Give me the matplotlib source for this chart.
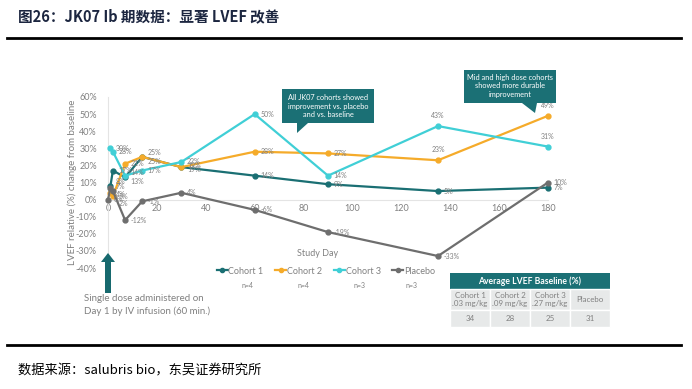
import matplotlib
matplotlib.use("Agg")
import matplotlib.pyplot as plt
from matplotlib.lines import Line2D
from matplotlib.patches import Polygon, Rectangle

plt.rcParams['font.family'] = ['Lato', 'Noto Sans CJK SC', 'DejaVu Sans']

# ---- data ----
days = [1, 2, 7, 14, 30, 60, 90, 135, 180]
placebo_days = [0, 1, 2, 7, 14, 30, 60, 90, 135, 180]

cohort1 = [8, 17, 13, 25, 19, 14, 9, 5, 7]
cohort2 = [4, 2, 21, 25, 19, 28, 27, 23, 49]
cohort3 = [30, 28, 14, 17, 22, 50, 14, 43, 31]
placebo = [0, 7, 5, -12, -1, 4, -6, -19, -33, 10]

series_names = ['Cohort 1', 'Cohort 2', 'Cohort 3', 'Placebo']
series_n = ['n=4', 'n=4', 'n=3', 'n=3']
colors = ['#1a6f73', '#f5ab2a', '#40cfd6', '#6e6e6e']

table_title = 'Average LVEF Baseline (%)'
table_heads = ['Cohort 1\n.03 mg/kg', 'Cohort 2\n.09 mg/kg', 'Cohort 3\n.27 mg/kg', 'Placebo']
table_vals = [34, 28, 25, 31]

y_ticks = [-40, -30, -20, -10, 0, 10, 20, 30, 40, 50, 60]
x_ticks = [0, 20, 40, 60, 80, 100, 120, 140, 160, 180]

W, H = 692, 389
TEAL = '#1b7075'
GREY = '#808080'


def fx(px):
    return px / W


def fy(py):
    return 1 - py / H


fig = plt.figure(figsize=(W / 100, H / 100), dpi=100)

# title + rules
fig.text(fx(18), fy(16), '图26：JK07 Ib 期数据：显著 LVEF 改善', fontsize=10.5,
         fontweight='bold', color='#1c2640', va='center', ha='left',
         family=['Noto Sans CJK SC', 'DejaVu Sans'])
fig.add_artist(Line2D([fx(7), fx(681)], [fy(38), fy(38)], color='black', lw=2))
fig.add_artist(Line2D([fx(7), fx(681)], [fy(345), fy(345)], color='black', lw=2))
fig.text(fx(18), fy(371), '数据来源：salubris bio，东吴证券研究所', fontsize=9.5,
         color='black', va='center', ha='left',
         family=['Noto Sans CJK SC', 'DejaVu Sans'])

# main axes
ax = fig.add_axes([fx(108), fy(268), fx(548) - fx(108), fy(97) - fy(268)])
ax.set_xlim(0, 180)
ax.set_ylim(-40, 60)

all_series = [(days, cohort1), (days, cohort2), (days, cohort3), (placebo_days, placebo)]
# label placement tweaks (series index, point index) -> offset in points
label_off = {
    (1, 7): (0, 5), (1, 8): (0, 5), (2, 7): (0, 5), (2, 8): (0, 5), (0, 3): (4, -3),
    (1, 3): (4, 3), (0, 0): (4, 3), (1, 0): (4, -1), (1, 1): (4, -5), (3, 1): (4, 1),
    (3, 2): (4, -4), (0, 2): (4, -3), (2, 2): (4, 2), (0, 4): (4, -2), (1, 4): (4, 1),
}
for k, ((xs, ys), c) in enumerate(zip(all_series, colors)):
    ax.plot(xs, ys, color=c, lw=1.6, marker='o', ms=3.5, clip_on=False, zorder=3)
    for i, (x, y) in enumerate(zip(xs, ys)):
        off = label_off.get((k, i), (4, 0))
        ha = 'center' if off[0] == 0 else 'left'
        va = 'bottom' if off[0] == 0 else 'center'
        ax.annotate(f'{y}%', (x, y), xytext=off, textcoords='offset points',
                    fontsize=5, color=GREY, va=va, ha=ha, zorder=4)

for s in ['top', 'right']:
    ax.spines[s].set_visible(False)
ax.spines['left'].set_position(('data', 0))
ax.spines['bottom'].set_position(('data', 0))
for s in ['left', 'bottom']:
    ax.spines[s].set_color('#e4e4e4')
    ax.spines[s].set_linewidth(0.8)
ax.set_yticks(y_ticks)
ax.set_yticklabels([f'{t}%' for t in y_ticks])
ax.set_xticks(x_ticks)
ax.tick_params(length=0, labelsize=6.5, colors=GREY)
ax.tick_params(axis='y', pad=8)
ax.tick_params(axis='x', pad=3)
ax.patch.set_alpha(0)

fig.text(fx(72), fy(182), 'LVEF relative (%) change from baseline', rotation=90,
         fontsize=7, color=GREY, ha='center', va='center')
fig.text(fx(318), fy(253), 'Study Day', fontsize=6.5, color=GREY, ha='center', va='center')

# legend
handles = [Line2D([], [], color=c, lw=1.6, marker='o', ms=3) for c in colors]
fig.legend(handles, series_names, loc='center', bbox_to_anchor=(fx(326), fy(271)),
           ncol=4, frameon=False, fontsize=6.5, labelcolor=GREY, handlelength=1.2,
           handletextpad=0.1, columnspacing=1.3, borderpad=0)
for xp, n in zip([248, 304, 359, 412], series_n):
    fig.text(fx(xp), fy(285), n, fontsize=5, color=GREY, ha='center', va='center')


def poly(points, color):
    fig.add_artist(Polygon([(fx(a), fy(b)) for a, b in points], closed=True,
                           facecolor=color, edgecolor='none', transform=fig.transFigure))


# callouts
poly([(282, 89), (374, 89), (374, 123), (308, 123), (297, 133), (297, 123), (282, 123)], TEAL)
fig.text(fx(328), fy(106), 'All JK07 cohorts showed\nimprovement vs. placebo\nand vs. baseline',
         fontsize=5.3, color='white', ha='center', va='center', linespacing=1.3)
poly([(464, 70), (556, 70), (556, 103), (537, 103), (535, 113), (522, 103), (464, 103)], TEAL)
fig.text(fx(510), fy(86), 'Mid and high dose cohorts\nshowed more durable\nimprovement',
         fontsize=5.3, color='white', ha='center', va='center', linespacing=1.3)

# dosing arrow
poly([(105, 293), (105, 262), (101, 262), (108, 253), (115, 262), (111, 262), (111, 293)], '#17696e')
fig.text(fx(84), fy(305), 'Single dose administered on\nDay 1 by IV infusion (60 min.)',
         fontsize=7, color=GREY, ha='left', va='center', linespacing=1.35)

# baseline table
tx0, tw = 450, 40
fig.add_artist(Rectangle((fx(tx0), fy(289)), fx(tx0 + 4 * tw) - fx(tx0), fy(273) - fy(289),
                         facecolor=TEAL, edgecolor='none', transform=fig.transFigure))
fig.text(fx(tx0 + 2 * tw), fy(281), table_title, fontsize=6.2, fontweight='bold',
         color='white', ha='center', va='center')
for j, (head, val) in enumerate(zip(table_heads, table_vals)):
    x0 = tx0 + j * tw
    for (top, bot, txt) in [(289, 310, head), (310, 327, str(val))]:
        fig.add_artist(Rectangle((fx(x0), fy(bot)), fx(x0 + tw) - fx(x0), fy(top) - fy(bot),
                                 facecolor='#e7e9e9', edgecolor='white', lw=1,
                                 transform=fig.transFigure))
        fig.text(fx(x0 + tw / 2), fy((top + bot) / 2), txt, fontsize=5.7, color=GREY,
                 ha='center', va='center', linespacing=1.1)

fig.savefig('out.png', dpi=100)
